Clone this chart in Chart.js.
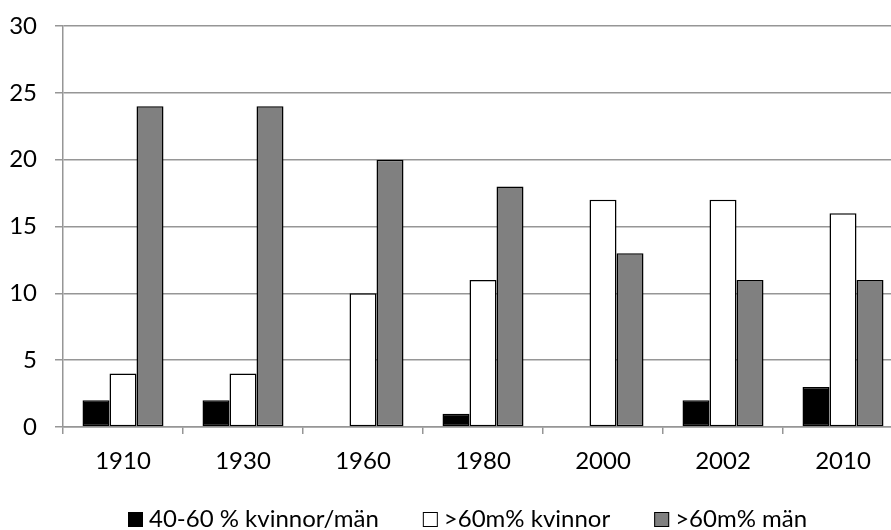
<!DOCTYPE html>
<html>
<head>
<meta charset="utf-8">
<script src="https://cdn.jsdelivr.net/npm/chart.js@4/dist/chart.umd.min.js"></script>
<style>
  html, body { margin: 0; padding: 0; overflow: hidden; background: #fff; }
  #wrap { width: 920px; height: 530px; }
  canvas { display: block; }
</style>
</head>
<body>
<div id="wrap"><canvas id="c" width="920" height="530" style="width:920px;height:530px"></canvas></div>
<script>
// Categories (years) and the three series
const years = ['1910', '1930', '1960', '1980', '2000', '2002', '2010'];
const share4060 = [2, 2, 0, 1, 0, 2, 3];
const over60Women = [4, 4, 10, 11, 17, 17, 16];
const over60Men = [24, 24, 20, 18, 13, 11, 11];
const seriesNames = ['40-60 % kvinnor/män', '>60m% kvinnor', '>60m% män'];
const yMin = 0, yMax = 30, yStep = 5;

const FONT = 'Lato, "Open Sans", sans-serif';
const FONT_SIZE = 24;
const GRID = '#969696';

// Legend row drawn under the axis: square swatch, then the series name
const bottomLegend = {
  id: 'bottomLegend',
  afterDraw(chart) {
    const ctx = chart.ctx;
    ctx.save();
    ctx.font = FONT_SIZE + 'px ' + FONT;
    const box = 15, gap = 6, space = 44, base = 527;
    let x = 128;
    chart.data.datasets.forEach(d => {
      const w = ctx.measureText(d.label).width;
      ctx.fillStyle = d.backgroundColor;
      ctx.fillRect(x, base - box, box, box);
      ctx.strokeStyle = '#000';
      ctx.lineWidth = 1;
      ctx.strokeRect(x + 0.5, base - box + 0.5, box - 1, box - 1);
      ctx.fillStyle = '#000';
      ctx.textBaseline = 'alphabetic';
      ctx.textAlign = 'left';
      ctx.fillText(d.label, x + box + gap, base);
      x += box + gap + w + space;
    });
    ctx.restore();
  }
};

// Zero-height bars get no outline so nothing shows on the axis
const borderFor = ctx => (ctx.raw === 0 ? 0 : 1.5);

new Chart(document.getElementById('c'), {
  type: 'bar',
  data: {
    labels: years,
    datasets: [
      { label: seriesNames[0], data: share4060, backgroundColor: '#000000', borderColor: '#000000', borderWidth: borderFor, borderSkipped: false },
      { label: seriesNames[1], data: over60Women, backgroundColor: '#ffffff', borderColor: '#000000', borderWidth: borderFor, borderSkipped: false },
      { label: seriesNames[2], data: over60Men, backgroundColor: '#808080', borderColor: '#000000', borderWidth: borderFor, borderSkipped: false }
    ]
  },
  options: {
    responsive: false,
    animation: false,
    events: [],
    layout: { autoPadding: false, padding: { top: 26, right: 17, left: 0, bottom: 0 } },
    datasets: { bar: { categoryPercentage: 0.675, barPercentage: 1.0 } },
    plugins: { legend: { display: false }, tooltip: { enabled: false } },
    scales: {
      x: {
        offset: true,
        grid: { display: true, drawOnChartArea: false, drawTicks: true, tickLength: 7, color: GRID, lineWidth: 1.5, offset: true },
        border: { display: true, color: GRID, width: 1.5 },
        ticks: { color: '#000', font: { family: FONT, size: FONT_SIZE }, padding: 13, maxRotation: 0, autoSkip: false },
        afterFit(scale) { scale.height = 103; }
      },
      y: {
        min: yMin, max: yMax,
        grid: { color: GRID, lineWidth: 1.5, tickLength: 8 },
        border: { display: true, color: GRID, width: 1.5 },
        ticks: { stepSize: yStep, color: '#000', font: { family: FONT, size: FONT_SIZE, lineHeight: 0.6 }, padding: 18 },
        afterFit(scale) { scale.width = 63; }
      }
    }
  },
  plugins: [bottomLegend]
});
</script>
</body>
</html>
